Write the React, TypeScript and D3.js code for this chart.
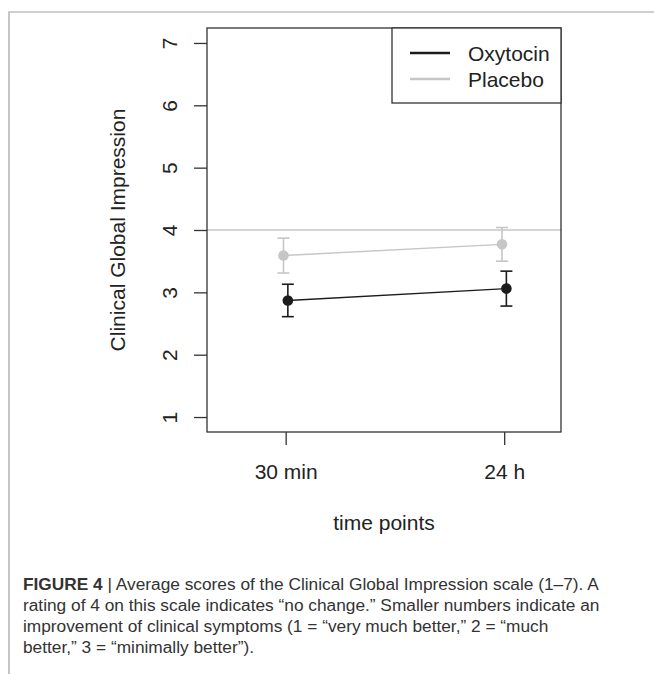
import React, { useEffect, useRef } from 'react';
import * as d3 from 'd3';

// data
const timePoints = ['30 min', '24 h'];
const groups = ['Oxytocin', 'Placebo'];
const oxytocinMean = [2.87, 3.06];
const oxytocinErr = [0.26, 0.28];
const placeboMean = [3.59, 3.77];
const placeboErr = [0.28, 0.27];
const yTicks = [1, 2, 3, 4, 5, 6, 7];
const refValue = 4;
const captionLines = [
  ['FIGURE 4', ' | Average scores of the Clinical Global Impression scale (1\u20137). A'],
  ['', 'rating of 4 on this scale indicates \u201cno change.\u201d Smaller numbers indicate an'],
  ['', 'improvement of clinical symptoms (1 = \u201cvery much better,\u201d 2 = \u201cmuch'],
  ['', 'better,\u201d 3 = \u201cminimally better\u201d).'],
];

const W = 654;
const H = 674;
const FONT = '"Liberation Sans", Arial, Helvetica, sans-serif';
const DARK = '#1c1c1c';
const GREY = '#c6c6c6';
const FS = 21;

export default function App() {
  const svgRef = useRef<SVGSVGElement>(null);

  useEffect(() => {
    const svg = d3.select(svgRef.current);
    svg.selectAll('*').remove();

    const left = 207, right = 561, top = 28, bottom = 432;

    const x = d3.scaleLinear().domain([0.64, 2.26]).range([left, right]);
    const y = d3.scaleLinear().domain([0.76, 7.24]).range([bottom, top]);

    // outer figure frame
    svg.append('path')
      .attr('d', `M9,${H} L9,12 L${W},12`)
      .attr('fill', 'none')
      .attr('stroke', '#a0a0a0')
      .attr('stroke-width', 1.2);

    // reference line at 4
    svg.append('line')
      .attr('x1', left).attr('x2', right)
      .attr('y1', y(refValue)).attr('y2', y(refValue))
      .attr('stroke', GREY)
      .attr('stroke-width', 1.6);

    // y axis, R style rotated labels
    const yAxis = svg.append('g')
      .attr('transform', `translate(${left},0)`)
      .call(d3.axisLeft(y).tickValues(yTicks).tickSize(13).tickPadding(0).tickFormat(d3.format('d')));
    yAxis.select('.domain').remove();
    yAxis.selectAll('line').attr('stroke', '#333').attr('stroke-width', 1.3);
    yAxis.selectAll('text')
      .attr('x', null).attr('dy', null)
      .attr('transform', `translate(${169 - left},0) rotate(-90)`)
      .attr('y', 7.5)
      .attr('text-anchor', 'middle')
      .attr('font-family', FONT)
      .attr('font-size', FS)
      .attr('fill', '#222');

    // x axis
    const xAxis = svg.append('g')
      .attr('transform', `translate(0,${bottom})`)
      .call(d3.axisBottom(x).tickValues([1, 2]).tickSize(13).tickPadding(0)
        .tickFormat((d) => timePoints[(d as number) - 1]));
    xAxis.select('.domain').remove();
    xAxis.selectAll('line').attr('stroke', '#333').attr('stroke-width', 1.3);
    xAxis.selectAll('text')
      .attr('y', 46.5).attr('dy', null)
      .attr('font-family', FONT)
      .attr('font-size', FS)
      .attr('fill', '#222');

    // plot box
    svg.append('rect')
      .attr('x', left).attr('y', top)
      .attr('width', right - left).attr('height', bottom - top)
      .attr('fill', 'none')
      .attr('stroke', '#333')
      .attr('stroke-width', 1.3);

    // axis titles
    svg.append('text')
      .attr('transform', `translate(125,${(top + bottom) / 2}) rotate(-90)`)
      .attr('text-anchor', 'middle')
      .attr('font-family', FONT)
      .attr('font-size', FS)
      .attr('fill', '#222')
      .text('Clinical Global Impression');

    svg.append('text')
      .attr('x', (left + right) / 2)
      .attr('y', 530)
      .attr('text-anchor', 'middle')
      .attr('font-family', FONT)
      .attr('font-size', FS)
      .attr('fill', '#222')
      .text('time points');

    // series: placebo under oxytocin
    const series = [
      { mean: placeboMean, err: placeboErr, color: GREY, dodge: -0.01 },
      { mean: oxytocinMean, err: oxytocinErr, color: DARK, dodge: 0.01 },
    ];

    series.forEach(s => {
      const g = svg.append('g');
      const pts = s.mean.map((m, i) => ({ xv: i + 1 + s.dodge, m, e: s.err[i] }));

      g.append('path')
        .datum(s.mean)
        .attr('d', d3.line<number>().x((d, i) => x(i + 1 + s.dodge)).y(d => y(d)))
        .attr('fill', 'none')
        .attr('stroke', s.color)
        .attr('stroke-width', 1.4);

      pts.forEach(p => {
        const cx = x(p.xv);
        g.append('line')
          .attr('x1', cx).attr('x2', cx)
          .attr('y1', y(p.m - p.e)).attr('y2', y(p.m + p.e))
          .attr('stroke', s.color).attr('stroke-width', 1.6);
        [p.m - p.e, p.m + p.e].forEach(v => {
          g.append('line')
            .attr('x1', cx - 6).attr('x2', cx + 6)
            .attr('y1', y(v)).attr('y2', y(v))
            .attr('stroke', s.color).attr('stroke-width', 1.6);
        });
        g.append('circle')
          .attr('cx', cx).attr('cy', y(p.m))
          .attr('r', 5.3)
          .attr('fill', s.color);
      });
    });

    // legend
    const lg = svg.append('g');
    lg.append('rect')
      .attr('x', 392).attr('y', top)
      .attr('width', right - 392).attr('height', 103 - top)
      .attr('fill', '#fff')
      .attr('stroke', '#333')
      .attr('stroke-width', 1.3);
    [DARK, GREY].forEach((c, i) => {
      const ly = 53 + i * 26;
      lg.append('line')
        .attr('x1', 410).attr('x2', 450)
        .attr('y1', ly).attr('y2', ly)
        .attr('stroke', c).attr('stroke-width', 2.6);
      lg.append('text')
        .attr('x', 468).attr('y', ly + 7.5)
        .attr('font-family', FONT)
        .attr('font-size', FS)
        .attr('fill', '#222')
        .text(groups[i]);
    });

    // caption
    captionLines.forEach((ln, i) => {
      const t = svg.append('text')
        .attr('x', 23).attr('y', 590 + i * 21)
        .attr('font-family', FONT)
        .attr('font-size', 17.3)
        .attr('fill', '#333');
      if (ln[0]) t.append('tspan').attr('font-weight', 'bold').text(ln[0]);
      t.append('tspan').text(ln[1]);
    });
  }, []);

  return (
    <svg
      ref={svgRef}
      width={W}
      height={H}
      style={{ position: 'absolute', left: 0, top: 0, background: '#fff' }}
    />
  );
}
